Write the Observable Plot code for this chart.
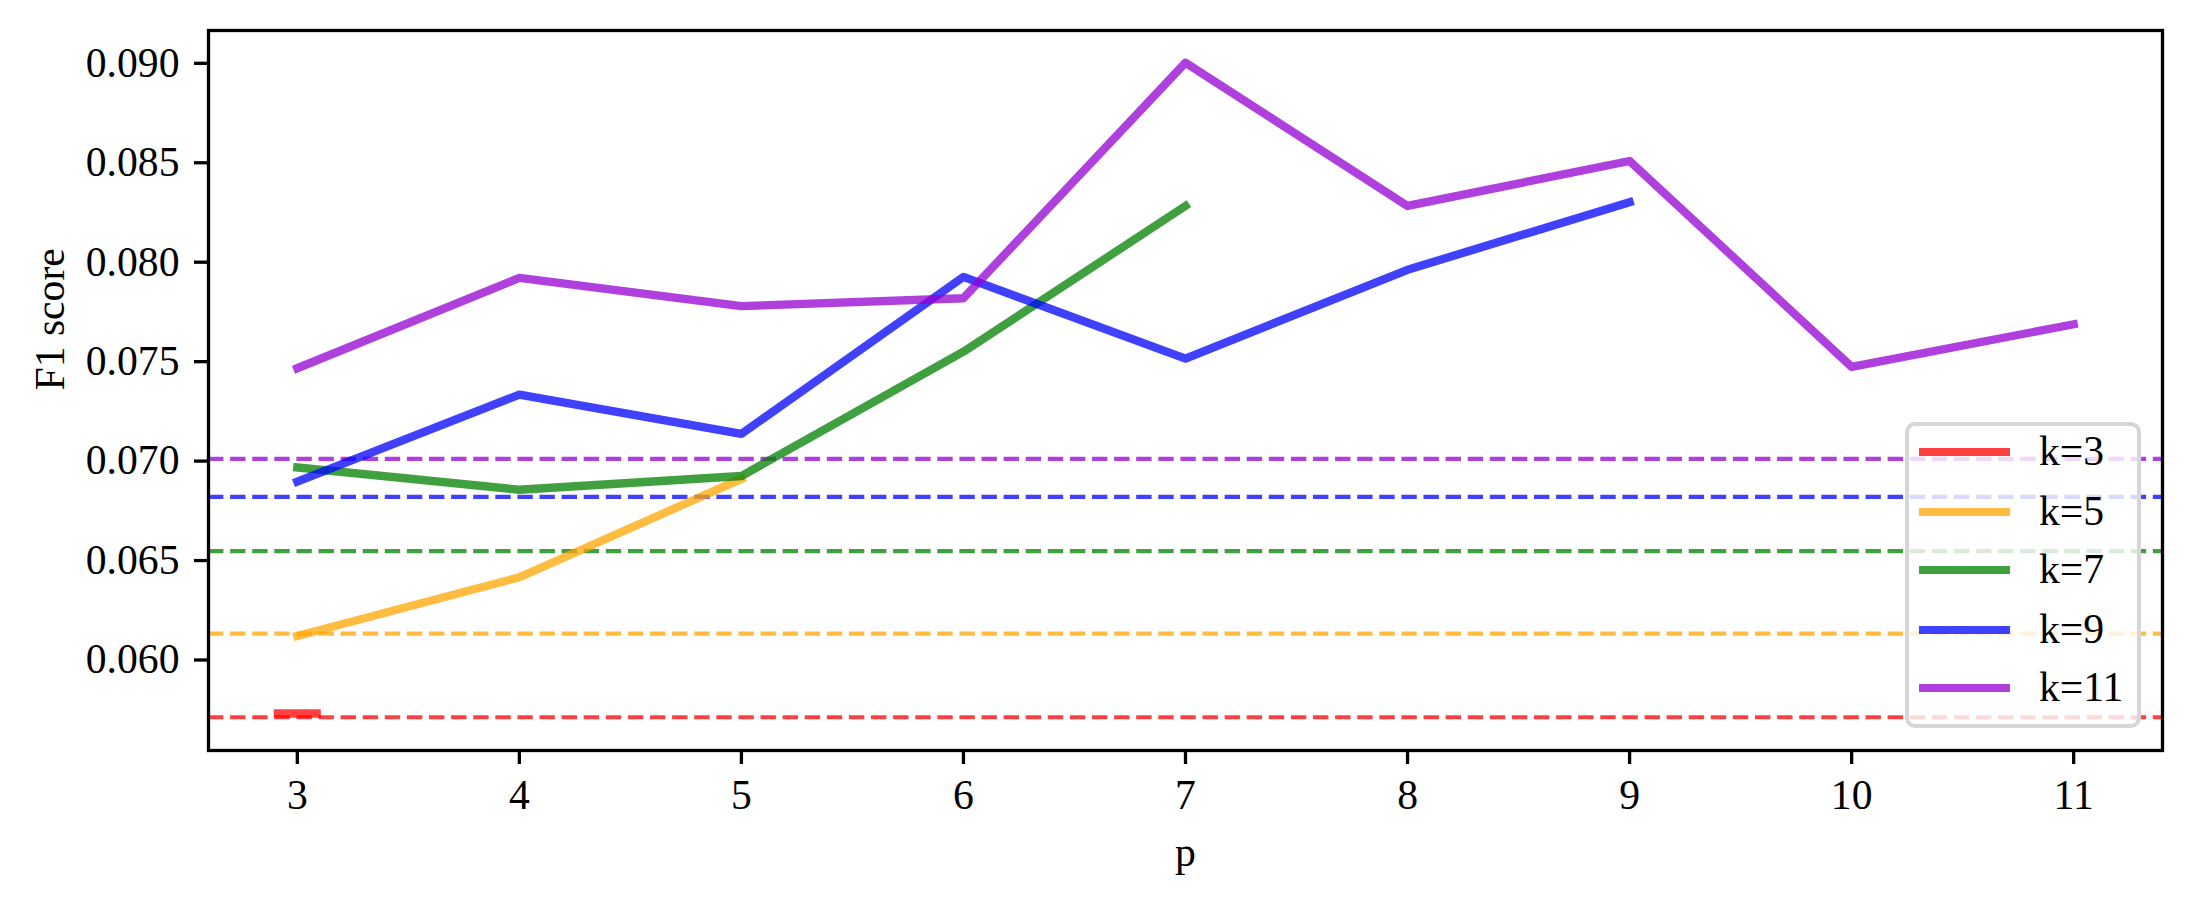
<!DOCTYPE html>
<html>
<head>
<meta charset="utf-8">
<script src="https://cdn.jsdelivr.net/npm/d3@7"></script>
<script src="https://cdn.jsdelivr.net/npm/@observablehq/plot@0.6"></script>
<style>
  html, body { margin: 0; padding: 0; background: #fff; }
  #wrap { position: relative; width: 2190px; height: 902px; font-family: "Liberation Serif", "Times New Roman", serif; }
  #legend {
    position: absolute; left: 1905px; top: 422px; width: 236px; height: 306px;
    box-sizing: border-box; border: 4px solid #d6d6d6; border-radius: 10px;
    background: rgba(255,255,255,0.8);
    font-size: 41.67px; color: #000;
  }
  .entry { position: absolute; left: 10px; height: 40px; display: flex; align-items: center; }
  .swatch { width: 91px; height: 8.3px; opacity: 0.75; margin-right: 29px; }
  .lab { line-height: 1; }
</style>
</head>
<body>
<div id="wrap"></div>
<script>
// ---- data ----
const ps = [3, 4, 5, 6, 7, 8, 9, 10, 11];
const kLabels = ["k=3", "k=5", "k=7", "k=9", "k=11"];
const colors = ["red", "orange", "green", "blue", "darkviolet"];
const k3 = [0.05731];
const k5 = [0.06121, 0.06416, 0.06911];
const k7 = [0.06968, 0.06856, 0.06925, 0.07550, 0.08283];
const k9 = [0.06897, 0.07334, 0.07137, 0.07926, 0.07515, 0.07962, 0.08302];
const k11 = [0.07467, 0.07921, 0.07779, 0.07819, 0.09003, 0.08283, 0.08509, 0.07474, 0.07688];
const baselines = [0.05712, 0.06133, 0.06547, 0.06820, 0.07011];
const xTicks = [3, 4, 5, 6, 7, 8, 9, 10, 11];
const yTicks = [0.060, 0.065, 0.070, 0.075, 0.080, 0.085, 0.090];

const series = [k3, k5, k7, k9, k11];
const rows = [];
series.forEach((vals, i) => vals.forEach((v, j) => rows.push({k: kLabels[i], p: ps[j], f1: v, n: vals.length})));
const multi = rows.filter(d => d.n > 1);
const single = rows.filter(d => d.n === 1);
const base = baselines.map((v, i) => ({k: kLabels[i], f1: v}));

const FS = 41.67;
const barSymbol = {
  draw(ctx) {
    const w = 23.5, h = 4.2;
    ctx.moveTo(-w, -h); ctx.lineTo(w, -h); ctx.lineTo(w, h); ctx.lineTo(-w, h); ctx.closePath();
  }
};

const plot = Plot.plot({
  width: 2190,
  height: 902,
  marginLeft: 208,
  marginRight: 28,
  marginTop: 30,
  marginBottom: 152,
  style: {fontFamily: "Liberation Serif, Times New Roman, serif", fontSize: FS + "px", background: "white", color: "black"},
  x: {domain: [2.6, 11.4], label: null},
  y: {domain: [0.05545, 0.09165], label: null},
  color: {domain: kLabels, range: colors},
  marks: [
    Plot.ruleY(base, {y: "f1", stroke: "k", strokeWidth: 4.17, strokeOpacity: 0.75, strokeDasharray: "15.4,6.7"}),
    Plot.line(multi, {x: "p", y: "f1", z: "k", stroke: "k", strokeWidth: 8.33, strokeOpacity: 0.75, strokeLinecap: "square", strokeLinejoin: "round"}),
    Plot.dot(single, {x: "p", y: "f1", fill: "k", fillOpacity: 0.75, stroke: "none", symbol: barSymbol, r: 5}),
    Plot.axisX(xTicks, {tickSize: 14, tickPadding: 15, strokeWidth: 3.3, fontSize: FS, label: null, tickFormat: d => String(d)}),
    Plot.axisY(yTicks, {tickSize: 14, tickPadding: 15, strokeWidth: 3.3, fontSize: FS, label: null, tickFormat: d3.format(".3f")}),
    Plot.frame({stroke: "black", strokeWidth: 3.3}),
    Plot.text(["p"], {frameAnchor: "bottom", dy: 102, fontSize: FS, lineAnchor: "middle", fill: "black"}),
    Plot.text(["F1 score"], {frameAnchor: "left", dx: -158, rotate: -90, fontSize: FS, lineAnchor: "middle", fill: "black"})
  ]
});

const wrap = document.getElementById("wrap");
wrap.appendChild(plot);

const legend = document.createElement("div");
legend.id = "legend";
const rowTops = [30, 90, 148, 208, 266];
kLabels.forEach((lab, i) => {
  const e = document.createElement("div");
  e.className = "entry";
  e.style.top = (rowTops[i] - 20 - 4) + "px";
  const sw = document.createElement("div");
  sw.className = "swatch";
  sw.style.background = colors[i];
  const t = document.createElement("span");
  t.className = "lab";
  t.textContent = lab;
  e.appendChild(sw); e.appendChild(t);
  legend.appendChild(e);
});
wrap.appendChild(legend);
</script>
</body>
</html>
